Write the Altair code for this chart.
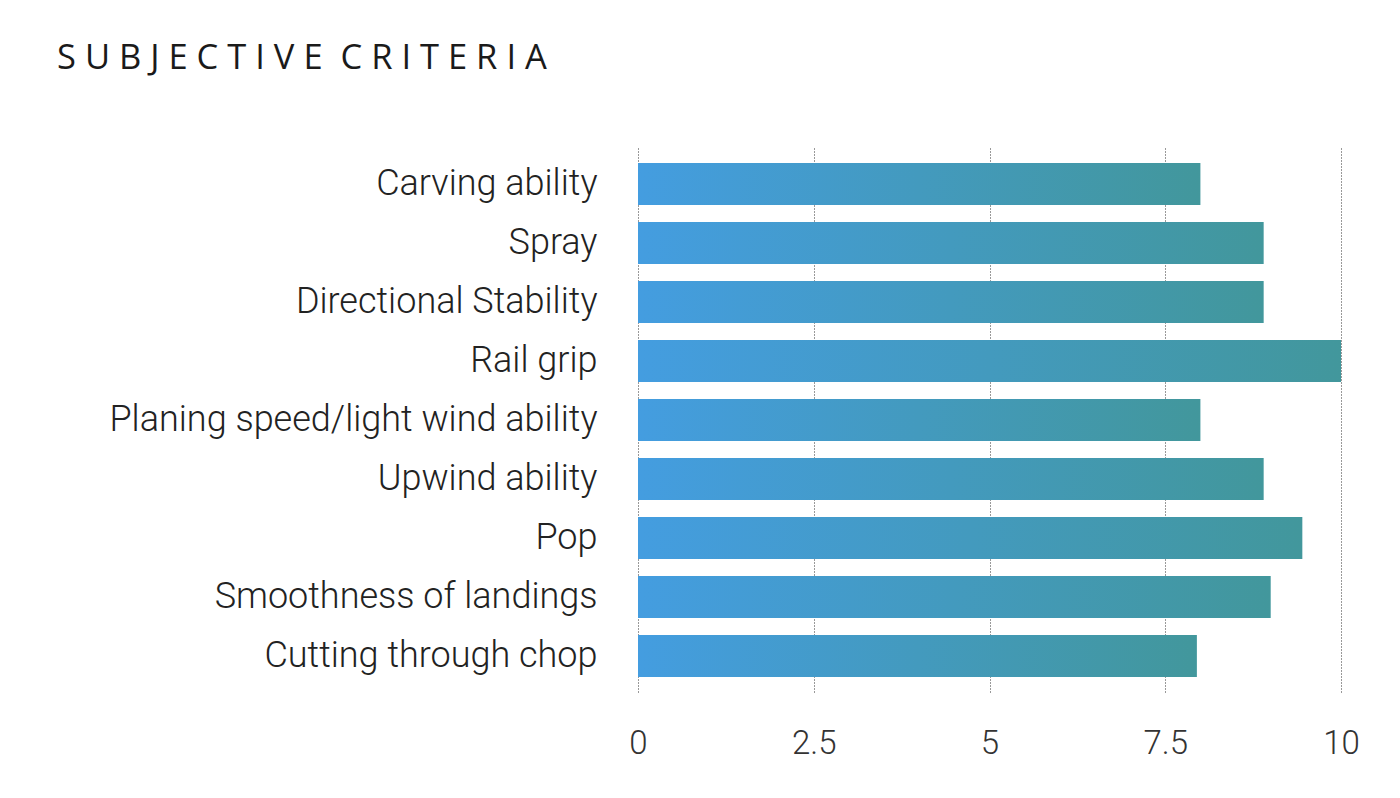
import altair as alt
import pandas as pd

categories = [
    "Carving ability",
    "Spray",
    "Directional Stability",
    "Rail grip",
    "Planing speed/light wind ability",
    "Upwind ability",
    "Pop",
    "Smoothness of landings",
    "Cutting through chop",
]
scores = [8.0, 8.9, 8.9, 10.0, 8.0, 8.9, 9.45, 9.0, 7.95]
tick_values = [0, 2.5, 5, 7.5, 10]
title_text = " ".join("SUBJECTIVE") + " \u00a0" + " ".join("CRITERIA")

df = pd.DataFrame({"criterion": categories, "score": scores})

gradient = alt.Gradient(
    gradient="linear",
    x1=0, x2=1, y1=0, y2=0,
    stops=[
        alt.GradientStop(offset=0, color="#449de0"),
        alt.GradientStop(offset=1, color="#42979c"),
    ],
)

chart = (
    alt.Chart(df)
    .mark_bar(color=gradient)
    .encode(
        x=alt.X(
            "score:Q",
            scale=alt.Scale(domain=[0, 10], nice=False),
            axis=alt.Axis(
                values=tick_values,
                format=".2~f",
                title=None,
                grid=True,
                gridDash=[1, 2],
                gridColor="#333333",
                gridWidth=1,
                domain=False,
                ticks=False,
                labelFlush=False,
                labelFont="Roboto",
                labelFontWeight=300,
                labelFontSize=33,
                labelColor="#333333",
                labelPadding=35,
            ),
        ),
        y=alt.Y(
            "criterion:N",
            sort=categories,
            scale=alt.Scale(paddingInner=0.29, paddingOuter=0.255),
            axis=alt.Axis(
                title=None,
                domain=False,
                ticks=False,
                labelFont="Roboto",
                labelFontWeight=300,
                labelFontSize=36,
                labelColor="#222222",
                labelPadding=41,
                labelLimit=600,
            ),
        ),
    )
    .properties(
        width=703,
        height=544,
        autosize=alt.AutoSizeParams(type="none"),
        padding={"left": 630, "top": 140, "right": 40, "bottom": 80},
        title=alt.TitleParams(
            text=title_text,
            anchor="start",
            frame="group",
            dx=-581,
            offset=45,
            baseline="alphabetic",
            font="Open Sans",
            fontSize=34.5,
            fontWeight=400,
            color="#1a1a1a",
        ),
    )
    .configure_view(stroke=None)
)

chart.save("out.html", embed_options={"renderer": "svg", "actions": False})
